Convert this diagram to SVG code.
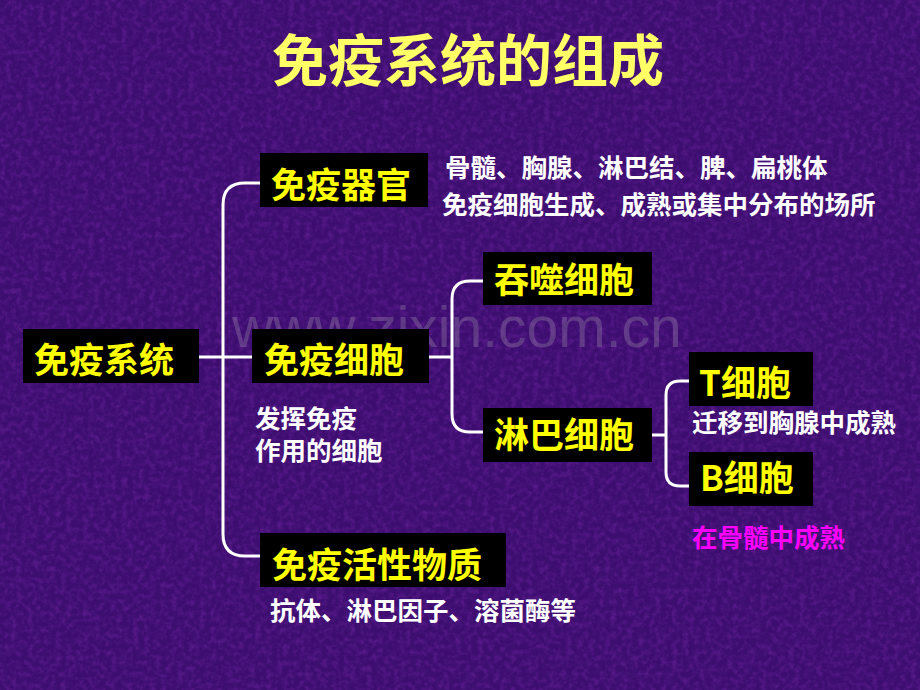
<svg xmlns="http://www.w3.org/2000/svg" width="920" height="690" viewBox="0 0 920 690">
<defs>
<filter id="tex" x="0" y="0" width="100%" height="100%">
<feTurbulence type="fractalNoise" baseFrequency="0.18" numOctaves="3" seed="4" result="n"/>
<feColorMatrix in="n" type="matrix" values="0 0 0 0 0.3  0 0 0 0 0.04  0 0 0 0 0.55  0 0 0 1.4 -0.55"/>
</filter>
<style>
.box{fill:#000}
.lbl{font-family:"Noto Sans CJK SC","Liberation Sans",sans-serif;font-weight:bold;font-size:35px;fill:#ffff00}
.txt{font-family:"Noto Sans CJK SC","Liberation Sans",sans-serif;font-weight:bold;font-size:25.5px;fill:#ffffff}
.con{fill:none;stroke:#ffffff;stroke-width:3}
</style>
</defs>
<rect width="920" height="690" fill="#3d0e70"/>
<rect width="920" height="690" filter="url(#tex)" opacity="0.45"/>
<text x="232" y="347" font-family="Liberation Sans, Arial, sans-serif" font-size="57" fill="#9a8aa8" fill-opacity="0.35">www.zixin.com.cn</text>
<text x="468" y="81" text-anchor="middle" font-family="Noto Sans CJK SC, sans-serif" font-weight="bold" font-size="56" fill="#ffff66">免疫系统的组成</text>
<g id="connectors">
<path class="con" d="M260,183 H245 Q223,183 223,205 V534 Q223,556 245,556 H260"/>
<path class="con" d="M199,357 H252"/>
<path class="con" d="M483,281 H470 Q452,281 452,299 V414 Q452,432 470,432 H483"/>
<path class="con" d="M429,357 H452"/>
<path class="con" d="M689,381 H680 Q666,381 666,395 V472 Q666,486 680,486 H689"/>
<path class="con" d="M652,435 H666"/>
</g>
<g id="immune-system">
<rect class="box" x="23" y="329" width="176" height="54"/>
<text class="lbl" x="104" y="373" text-anchor="middle">免疫系统</text>
</g>
<g id="immune-organs">
<rect class="box" x="260" y="153" width="168" height="54"/>
<text class="lbl" x="341" y="198" text-anchor="middle">免疫器官</text>
<text class="txt" x="445" y="177">骨髓、胸腺、淋巴结、脾、扁桃体</text>
<text class="txt" x="442" y="214">免疫细胞生成、成熟或集中分布的场所</text>
</g>
<g id="immune-cells">
<rect class="box" x="252" y="329" width="177" height="54"/>
<text class="lbl" x="334" y="373" text-anchor="middle">免疫细胞</text>
<text class="txt" x="255" y="428">发挥免疫</text>
<text class="txt" x="255" y="460">作用的细胞</text>
</g>
<g id="phagocyte">
<rect class="box" x="483" y="252" width="169" height="53"/>
<text class="lbl" x="564" y="293" text-anchor="middle">吞噬细胞</text>
</g>
<g id="lymphocyte">
<rect class="box" x="483" y="408" width="169" height="54"/>
<text class="lbl" x="564" y="448" text-anchor="middle">淋巴细胞</text>
</g>
<g id="t-cell">
<rect class="box" x="689" y="352" width="124" height="54"/>
<text class="lbl" x="699" y="396">T细胞</text>
<text class="txt" x="692" y="432">迁移到胸腺中成熟</text>
</g>
<g id="b-cell">
<rect class="box" x="689" y="452" width="124" height="54"/>
<text class="lbl" x="700" y="491">B细胞</text>
<text class="txt" x="692" y="547" style="fill:#ff00ff">在骨髓中成熟</text>
</g>
<g id="active-substances">
<rect class="box" x="260" y="533" width="246" height="54"/>
<text class="lbl" x="377" y="578" text-anchor="middle">免疫活性物质</text>
<text class="txt" x="270" y="620">抗体、淋巴因子、溶菌酶等</text>
</g>
</svg>
